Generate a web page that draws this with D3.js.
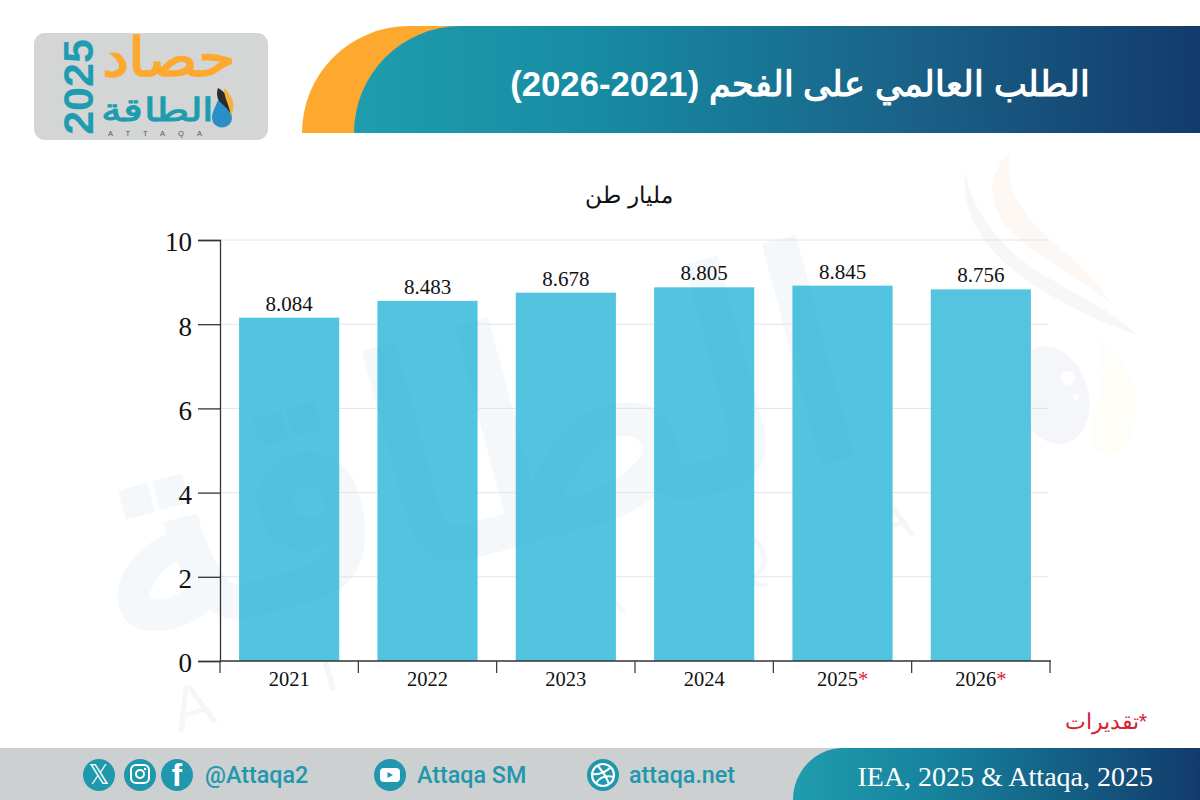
<!DOCTYPE html>
<html lang="ar">
<head>
<meta charset="utf-8">
<script src="https://cdn.jsdelivr.net/npm/d3@7"></script>
<style>
html,body{margin:0;padding:0;background:#fff}
svg{display:block}
text{font-family:"Liberation Sans",Arial,sans-serif}
.serif{font-family:"Liberation Serif","Times New Roman",serif}
</style>
</head>
<body>
<svg id="c" width="1200" height="800" viewBox="0 0 1200 800"></svg>
<script>
const years = ["2021","2022","2023","2024","2025","2026"];
const demand = [8.084,8.483,8.678,8.805,8.845,8.756];
const labels = ["8.084","8.483","8.678","8.805","8.845","8.756"];
const estimated = [false,false,false,false,true,true];
const yTicks = [0,2,4,6,8,10];
const titleText = "الطلب العالمي على الفحم (2021-2026)";
const unitText = "مليار طن";
const noteText = "*تقديرات";
const sourceText = "IEA, 2025 & Attaqa, 2025";

const svg = d3.select("#c");
const defs = svg.append("defs");
const grad = (id,stops)=>{
  const g = defs.append("linearGradient").attr("id",id).attr("x1","0").attr("x2","1").attr("y1","0").attr("y2","0");
  stops.forEach(s=>g.append("stop").attr("offset",s[0]).attr("stop-color",s[1]));
};
grad("hdr",[[0,"#1f9dae"],[0.3,"#178aa2"],[0.65,"#1a6288"],[1,"#123b6c"]]);
grad("ftr",[[0,"#1f9dae"],[0.35,"#17829c"],[1,"#123b6c"]]);

// faint watermark behind the plot
const wmWord = "الطاقة";
const wmPos = "translate(495,548) rotate(-15)";
const wm = svg.append("g").attr("pointer-events","none");
wm.append("text").text(wmWord)
  .attr("transform",wmPos)
  .attr("text-anchor","middle").attr("font-size",290).attr("font-weight","bold")
  .attr("fill","#f4f8fa");
wm.append("text").text("ATTAQA")
  .attr("transform","translate(178,732) rotate(-15)")
  .attr("font-size",62).attr("letter-spacing",105)
  .attr("fill","#f5f6f7");
wm.append("path").attr("d","M1010,152 C985,175 985,210 1020,240 C1050,265 1090,285 1112,305 C1090,270 1060,250 1040,230 C1015,205 1005,180 1010,152 Z").attr("fill","#fdf8f3");
wm.append("path").attr("d","M965,170 C960,230 1000,265 1050,295 C1090,318 1120,330 1137,334 C1100,300 1040,280 1010,250 C985,225 970,200 965,170 Z").attr("fill","#f6f7f8");
wm.append("path").attr("d","M1095,335 C1135,365 1150,410 1125,445 C1105,470 1080,445 1095,410 C1105,385 1105,360 1095,335 Z").attr("fill","#fefdf7");
wm.append("ellipse").attr("cx",1052).attr("cy",395).attr("rx",36).attr("ry",50)
  .attr("transform","rotate(-18 1052 395)").attr("fill","#f5f6fa");
wm.append("circle").attr("cx",1068).attr("cy",378).attr("r",7).attr("fill","#fff");
wm.append("circle").attr("cx",1076).attr("cy",397).attr("r",3).attr("fill","#fff");

// chart
const x = d3.scaleBand().domain(years).range([220,1050]).paddingInner(0.276).paddingOuter(0.138);
const y = d3.scaleLinear().domain([0,10]).range([661,240]);
const barTop = d3.scaleLinear().domain([0,10]).range([658,237]);

svg.append("g").selectAll("line").data(yTicks.filter(d=>d>0)).join("line")
  .attr("x1",220).attr("x2",1048).attr("y1",d=>y(d)).attr("y2",d=>y(d))
  .attr("stroke","#e2e4e6").attr("stroke-width",1);

svg.append("g").selectAll("rect").data(years).join("rect")
  .attr("x",d=>x(d)).attr("width",x.bandwidth())
  .attr("y",(d,i)=>barTop(demand[i]))
  .attr("height",(d,i)=>y(0)-barTop(demand[i]))
  .attr("fill","#54c4df");

// watermark tint showing through the bars
defs.append("clipPath").attr("id","barsClip").selectAll("rect").data(years).join("rect")
  .attr("x",d=>x(d)).attr("width",x.bandwidth())
  .attr("y",(d,i)=>barTop(demand[i]))
  .attr("height",(d,i)=>y(0)-barTop(demand[i]));
svg.append("g").attr("clip-path","url(#barsClip)").append("text").text(wmWord)
  .attr("transform",wmPos)
  .attr("text-anchor","middle").attr("font-size",290).attr("font-weight","bold")
  .attr("fill","#2a9cbc").attr("opacity",0.045);

svg.append("g").selectAll("text").data(years).join("text").attr("class","serif")
  .attr("x",d=>x(d)+x.bandwidth()/2)
  .attr("y",(d,i)=>barTop(demand[i])-7)
  .attr("text-anchor","middle").attr("font-size",21).attr("fill","#111")
  .text((d,i)=>labels[i]);

const yAxis = svg.append("g").attr("transform","translate(220,0)")
  .call(d3.axisLeft(y).tickValues(yTicks).tickSize(22).tickPadding(6).tickFormat(d3.format("d")));
yAxis.selectAll(".domain,line").attr("stroke","#333").attr("stroke-width",1.3);
yAxis.selectAll("text").attr("class","serif").attr("font-size",27).attr("fill","#111").attr("dy","0.4em");

const xAxisG = svg.append("g").attr("transform","translate(0,661)");
xAxisG.append("line").attr("x1",220).attr("x2",1051).attr("y1",0).attr("y2",0)
  .attr("stroke","#333").attr("stroke-width",1.5);
xAxisG.selectAll(".sep").data(d3.range(years.length+1)).join("line").attr("class","sep")
  .attr("x1",i=>x.range()[0]+i*x.step()).attr("x2",i=>x.range()[0]+i*x.step())
  .attr("y1",0).attr("y2",12).attr("stroke","#333").attr("stroke-width",1.2);
const xl = xAxisG.selectAll(".yl").data(years).join("text").attr("class","yl serif")
  .attr("x",d=>x(d)+x.bandwidth()/2).attr("y",25)
  .attr("text-anchor","middle").attr("font-size",20.5).attr("fill","#111");
xl.append("tspan").text(d=>d);
xl.filter((d,i)=>estimated[i]).append("tspan").text("*").attr("fill","#e0203a");

svg.append("text").text(unitText).attr("x",629).attr("y",203)
  .attr("text-anchor","middle").attr("direction","rtl").attr("font-size",22.5).attr("fill","#111");
svg.append("text").text(noteText).attr("x",1147).attr("y",729)
  .attr("text-anchor","start").attr("direction","rtl").attr("font-size",21.5).attr("fill","#d8202f");

// header
svg.append("path").attr("d","M302,133 A107,107 0 0 1 409,26 L470,26 L470,133 Z").attr("fill","#fda930");
svg.append("path").attr("d","M354,133 A107,107 0 0 1 461,26 L1200,26 L1200,133 Z").attr("fill","url(#hdr)");
svg.append("text").text(titleText).attr("x",800).attr("y",96)
  .attr("text-anchor","middle").attr("direction","rtl").attr("font-size",34.7).attr("font-weight","bold").attr("fill","#fff");

// logo
const logo = svg.append("g");
logo.append("rect").attr("x",34).attr("y",33).attr("width",234).attr("height",107).attr("rx",11).attr("fill","#d4d6d6");
logo.append("text").text("2025").attr("transform","translate(93,87) rotate(-90)")
  .attr("text-anchor","middle").attr("font-size",43).attr("font-weight","bold").attr("fill","#1f9db0");
logo.append("text").text("حصاد").attr("transform","translate(168,76) scale(1.12,1)")
  .attr("text-anchor","middle").attr("direction","rtl").attr("font-size",54).attr("font-weight","bold").attr("fill","#fda930");
logo.append("text").text("الطاقة").attr("transform","translate(157,121) scale(1.3,1)")
  .attr("text-anchor","middle").attr("direction","rtl").attr("font-size",32).attr("font-weight","bold").attr("fill","#1f9db0");
logo.append("path").attr("d","M218,88 C232,96 233,110 229,116 C224,108 214,100 218,88 Z").attr("fill","#2c2c2c");
logo.append("path").attr("d","M224,88 C235,98 235,108 231,116 C229,104 224,98 224,88 Z").attr("fill","#f4b23c");
logo.append("path").attr("d","M218,100 C215,108 212,112 212,118 A10,9.5 0 0 0 232,118 C232,112 224,106 218,100 Z").attr("fill","#2a8fc4");
logo.append("text").text("ATTAQA").attr("x",108).attr("y",136)
  .attr("font-size",7.5).attr("letter-spacing",13).attr("fill","#555");

// footer
svg.append("rect").attr("x",0).attr("y",748).attr("width",1200).attr("height",52).attr("fill","#cdd0d0");
svg.append("path").attr("d","M793,800 A50,52 0 0 1 843,748 L1200,748 L1200,800 Z").attr("fill","url(#ftr)");
svg.append("text").text(sourceText).attr("class","serif").attr("x",1153).attr("y",786)
  .attr("text-anchor","end").attr("font-size",28).attr("fill","#fff");

const teal = "#1f97ad";
const iconX = [99,140,177,390,603];
const foot = svg.append("g");
foot.selectAll("circle").data(iconX).join("circle")
  .attr("cx",d=>d).attr("cy",775).attr("r",16).attr("fill",teal);
const ic = i=>foot.append("g").attr("transform",`translate(${iconX[i]},775)`);
ic(0).append("text").text("𝕏").attr("y",9).attr("text-anchor","middle").attr("font-size",26)
  .style("font-family","'DejaVu Sans'").attr("fill","#fff");
const ig = ic(1);
ig.append("rect").attr("x",-9).attr("y",-10).attr("width",18).attr("height",18).attr("rx",5).attr("fill","none").attr("stroke","#fff").attr("stroke-width",2);
ig.append("circle").attr("cy",-1).attr("r",4).attr("fill","none").attr("stroke","#fff").attr("stroke-width",2);
ig.append("circle").attr("cx",5).attr("cy",-6).attr("r",1.2).attr("fill","#fff");
ic(2).append("text").text("f").attr("y",11).attr("text-anchor","middle").attr("font-size",31).attr("font-weight","bold").attr("fill","#fff");
const yt = ic(3);
yt.append("rect").attr("x",-10).attr("y",-7).attr("width",20).attr("height",14).attr("rx",4).attr("fill","#fff");
yt.append("path").attr("d","M-2.5,-3 L3,0 L-2.5,3 Z").attr("fill",teal);
const gl = ic(4);
gl.append("circle").attr("r",11).attr("fill","none").attr("stroke","#fff").attr("stroke-width",2.2);
gl.append("path").attr("d","M-5,-9 C0,-3 5,4 6,10 M-11,-1 C-3,0 3,-3 8,-8 M-7,8 C-3,2 3,0 11,2")
  .attr("fill","none").attr("stroke","#fff").attr("stroke-width",2);
const footText = ["@Attaqa2","Attaqa SM","attaqa.net"];
const footX = [205,417,629];
foot.selectAll(".t").data(footText).join("text").attr("class","t")
  .attr("x",(d,i)=>footX[i]).attr("y",783).attr("font-size",23.3).attr("font-weight",500)
  .style("font-family","Roboto").attr("fill",teal).text(d=>d);
</script>
</body>
</html>
